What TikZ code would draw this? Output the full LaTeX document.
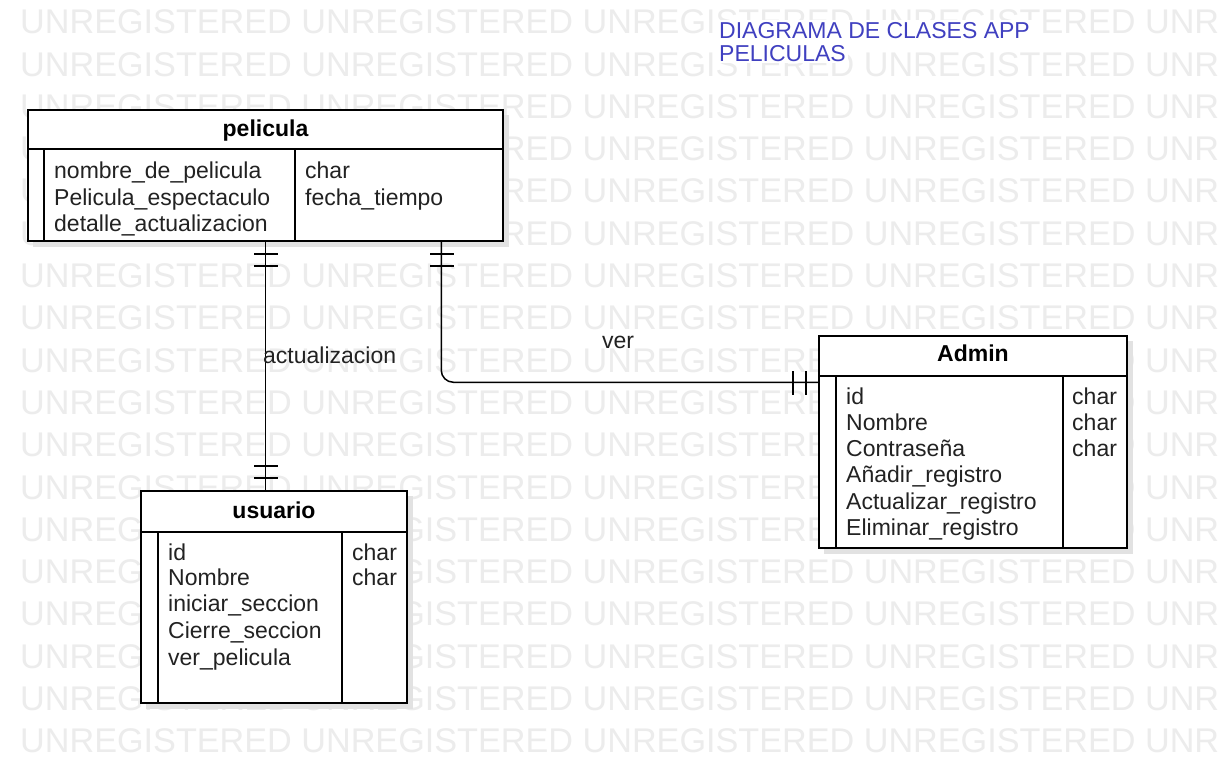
\documentclass[tikz,border=0pt]{standalone}
\usepackage{fontspec}
\setmainfont{Liberation Sans}
\definecolor{wm}{RGB}{236,236,236}
\definecolor{ttl}{RGB}{64,64,192}
\definecolor{txt}{RGB}{34,34,34}
\definecolor{shd}{RGB}{226,226,226}
\begin{document}
\begin{tikzpicture}[x=1pt,y=-1pt,
  wmark/.style={anchor=west, inner sep=0, text=wm, font=\fontsize{34.2}{34.2}\selectfont},
  row/.style={anchor=base west, inner sep=0, text=txt, font=\fontsize{23}{23}\selectfont},
  hdr/.style={anchor=base, inner sep=0, text=black, font=\fontsize{23}{23}\selectfont\bfseries},
  ttlrow/.style={anchor=base west, inner xsep=2, inner ysep=2, fill=white, text=ttl, font=\fontsize{23}{23}\selectfont},
  lbl/.style={anchor=base west, inner sep=0, text=txt, font=\fontsize{23}{23}\selectfont},
  box/.style={draw=black, line width=1.5, fill=white, inner sep=0},
  conn/.style={draw=black, line width=1.5},
  tick/.style={draw=black, line width=1.5},
  sep/.style={draw=black, line width=1.5},
]
\useasboundingbox (0,0) rectangle (1225,760);
\fill[white] (0,0) rectangle (1225,760);
% watermark
\foreach \k in {0,...,17}
  \node[wmark] (wm\k) at (20,{22+42.3*\k}) {UNREGISTERED UNREGISTERED UNREGISTERED UNREGISTERED UNR};

% title
\node[ttlrow] (t1) at (717,38) {DIAGRAMA DE CLASES APP};
\node[ttlrow] (t2) at (717,61) {PELICULAS};

% shadows
\fill[shd] (33,115) rectangle (509,247);
\fill[shd] (146,496) rectangle (413,709);
\fill[shd] (824,341) rectangle (1133,554);

% pelicula
\node[box, minimum width=475, minimum height=131] (pel) at (265.5,175.5) {};
\draw[sep] (28,149) -- (503,149);
\draw[sep] (44,149) -- (44,241);
\draw[sep] (295,149) -- (295,241);
\node[hdr] (pelh) at (265.5,136) {pelicula};
\node[row] (p1) at (54,178) {nombre\_de\_pelicula};
\node[row] (p2) at (54,205) {Pelicula\_espectaculo};
\node[row] (p3) at (54,231) {detalle\_actualizacion};
\node[row] (p4) at (305,178) {char};
\node[row] (p5) at (305,205) {fecha\_tiempo};

% usuario
\node[box, minimum width=266, minimum height=212] (usu) at (274,597) {};
\draw[sep] (141,532) -- (407,532);
\draw[sep] (158,532) -- (158,703);
\draw[sep] (342,532) -- (342,703);
\node[hdr] (usuh) at (274,518) {usuario};
\node[row] (u1) at (168,560) {id};
\node[row] (u2) at (168,585) {Nombre};
\node[row] (u3) at (168,611) {iniciar\_seccion};
\node[row] (u4) at (168,638) {Cierre\_seccion};
\node[row] (u5) at (168,665) {ver\_pelicula};
\node[row] (u6) at (352,560) {char};
\node[row] (u7) at (352,585) {char};

% Admin
\node[box, minimum width=308, minimum height=212] (adm) at (973,442) {};
\draw[sep] (819,376) -- (1127,376);
\draw[sep] (836,376) -- (836,548);
\draw[sep] (1063,376) -- (1063,548);
\node[hdr] (admh) at (973,361) {Admin};
\node[row] (a1) at (846,404) {id};
\node[row] (a2) at (846,430) {Nombre};
\node[row] (a3) at (846,456) {Contraseña};
\node[row] (a4) at (846,482) {Añadir\_registro};
\node[row] (a5) at (846,509) {Actualizar\_registro};
\node[row] (a6) at (846,535) {Eliminar\_registro};
\node[row] (a7) at (1072,404) {char};
\node[row] (a8) at (1072,430) {char};
\node[row] (a9) at (1072,456) {char};

% connector actualizacion
\draw[conn] ([xshift=238]pel.south west) -- ([xshift=125]usu.north west);
\draw[tick] (254,254) -- (278,254);
\draw[tick] (254,266) -- (278,266);
\draw[tick] (254,466) -- (278,466);
\draw[tick] (254,478) -- (278,478);
\node[lbl] (lact) at (263,363) {actualizacion};

% connector ver
\draw[conn, rounded corners=12] ([xshift=414]pel.south west) |- ([yshift=-47]adm.north west);
\draw[tick] (430,254) -- (454,254);
\draw[tick] (430,266) -- (454,266);
\draw[tick] (793,371) -- (793,395);
\draw[tick] (806,371) -- (806,395);
\node[lbl] (lver) at (602,348) {ver};
\end{tikzpicture}
\end{document}
